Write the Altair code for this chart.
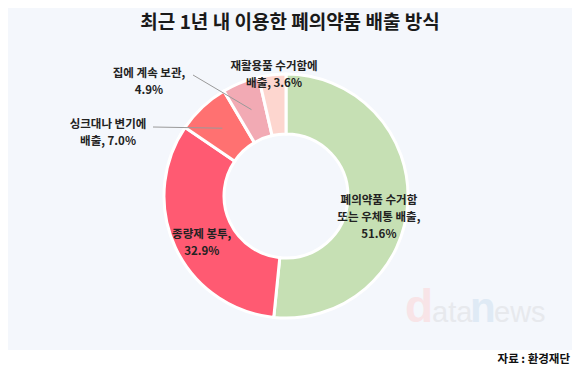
import math
import altair as alt
import pandas as pd

# ---- data ----
categories = ["폐의약품 수거함 또는 우체통 배출", "종량제 봉투", "싱크대나 변기에 배출", "집에 계속 보관", "재활용품 수거함에 배출"]
values = [51.6, 32.9, 7.0, 4.9, 3.6]
colors = ["#c6e0b4", "#ff5a72", "#ff7171", "#f2aab4", "#fdd6cf"]
inner_labels = ["폐의약품 수거함\n또는 우체통 배출,\n51.6%", "종량제 봉투,\n32.9%", "", "", ""]
outer_labels = ["싱크대나 변기에\n배출, 7.0%", "집에 계속 보관,\n4.9%", "재활용품 수거함에\n배출, 3.6%"]
title_text = "최근 1년 내 이용한 폐의약품 배출 방식"
source_text = "자료 : 환경재단"

# ---- layout (pixels in chart coords) ----
W, H = 564, 359
CX, CY = 278, 188
R_IN, R_OUT, R_LAB = 62, 122, 93
FONT = "Noto Sans CJK KR"
outer_pos = [(100, 117), (141, 66), (266, 59)]
leader_start = {2: (145, 119), 3: (185, 67)}

df = pd.DataFrame({
    "cat": categories,
    "value": values,
    "idx": list(range(len(values))),
    "inner": inner_labels,
})

# leader line ends from mid-angles of slices
total = sum(values)
cum = 0
mids = []
for v in values:
    mids.append((cum + v / 2) / total * 2 * math.pi)
    cum += v
lead_rows = []
for i, (sx, sy) in leader_start.items():
    a = mids[i]
    lead_rows.append({"x": sx, "y": sy,
                      "x2": CX + R_LAB * math.sin(a), "y2": CY - R_LAB * math.cos(a)})
lead_df = pd.DataFrame(lead_rows)

one = pd.DataFrame({"a": [0]})

panel = alt.Chart(one).mark_rect(color="#f4f7fc").encode(
    x=alt.value(0), x2=alt.value(W), y=alt.value(0), y2=alt.value(342))

# watermark
wm_parts = [("d", 397, 46, "bold", "#f8e4e7"), ("ata", 424, 29, "normal", "#e7e9ed"),
            ("n", 462, 42, "bold", "#dfeaf5"), ("ews", 486, 29, "normal", "#e7e9ed")]
wm_layers = []
for t, x, fs, fw, c in wm_parts:
    wm_layers.append(alt.Chart(one).mark_text(
        text=t, font="Liberation Sans", fontSize=fs, fontWeight=fw, color=c,
        align="left", baseline="alphabetic").encode(x=alt.value(x), y=alt.value(314)))

arcs = alt.Chart(df).mark_arc(innerRadius=R_IN, outerRadius=R_OUT, stroke="white", strokeWidth=3).encode(
    theta=alt.Theta("value:Q", stack=True),
    color=alt.Color("cat:N", scale=alt.Scale(domain=categories, range=colors), legend=None),
    order=alt.Order("idx:Q"),
    x=alt.value(CX), y=alt.value(CY),
)

inner_text = alt.Chart(df).mark_text(
    radius=R_LAB, lineBreak="\n", font=FONT, fontSize=11.5, fontWeight="bold",
    color="#222222", lineHeight=17).encode(
    theta=alt.Theta("value:Q", stack=True),
    order=alt.Order("idx:Q"),
    text="inner:N",
    x=alt.value(CX), y=alt.value(CY),
)

leaders = alt.Chart(lead_df).mark_rule(color="#9a9a9a", strokeWidth=1).encode(
    x=alt.X("x:Q", scale=None), x2="x2:Q",
    y=alt.Y("y:Q", scale=None), y2="y2:Q")

out_layers = []
for lab, (x, y) in zip(outer_labels, outer_pos):
    out_layers.append(alt.Chart(one).mark_text(
        text=lab, lineBreak="\n", font=FONT, fontSize=11.5, fontWeight="bold",
        color="#222222", lineHeight=17, align="center", baseline="middle").encode(
        x=alt.value(x), y=alt.value(y)))

title = alt.Chart(one).mark_text(
    text=title_text, font=FONT, fontSize=19, fontWeight="bold", color="#1a1a1a",
    align="center", baseline="middle").encode(x=alt.value(282), y=alt.value(15))

source = alt.Chart(one).mark_text(
    text=source_text, font=FONT, fontSize=11.5, fontWeight="bold", color="#111111",
    align="right", baseline="middle").encode(x=alt.value(562), y=alt.value(352))

chart = alt.layer(panel, *wm_layers, arcs, inner_text, leaders, *out_layers, title, source).properties(
    width=W, height=H, padding=0, background="white",
    autosize=alt.AutoSizeParams(type="none"),
).configure_view(strokeWidth=0)

chart.save("out.html", embed_options={"renderer": "svg", "actions": False})
